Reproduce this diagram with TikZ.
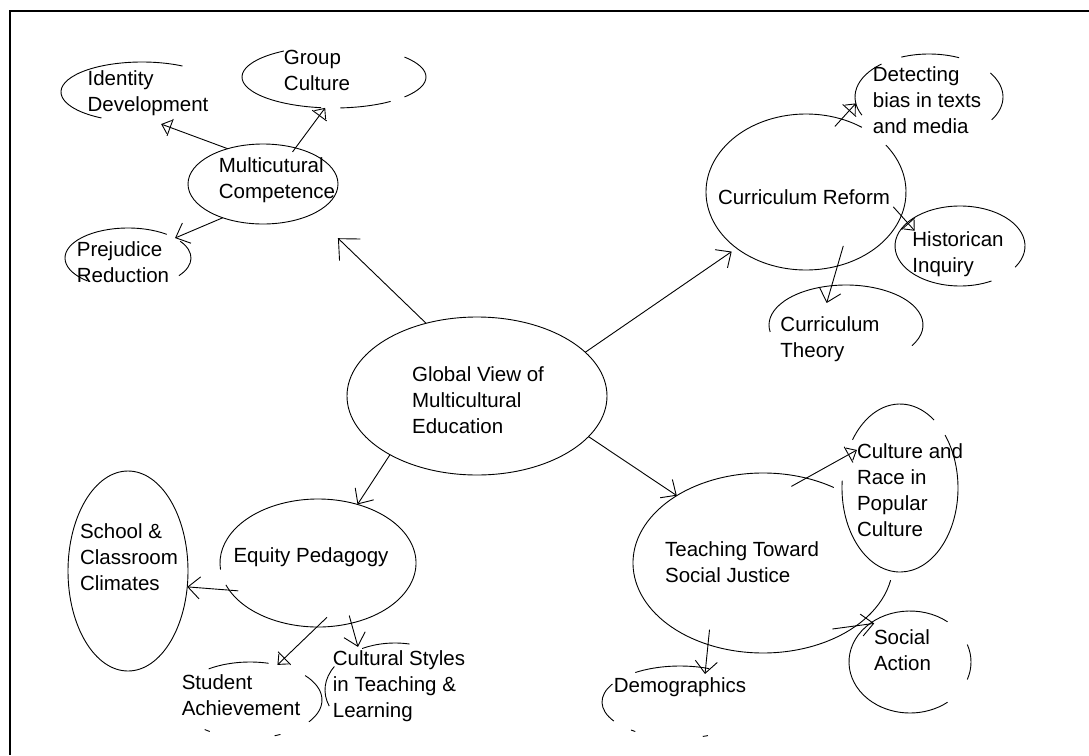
\documentclass[tikz,border=0pt]{standalone}
\usepackage{fontspec}
\setmainfont{Liberation Sans}
\usetikzlibrary{arrows.meta,shapes.geometric}

\begin{document}
\begin{tikzpicture}[x=1pt,y=1pt,line width=0.9pt,
  oval/.style 2 args={ellipse,minimum width=#1,minimum height=#2,inner sep=0pt,outer sep=0pt},
  txt/.style={align=left,inner sep=0pt,font=\fontsize{20.5}{26}\selectfont},
  arr/.style={-{Straight Barb[length=12pt,width=22pt]}},
  bigarr/.style={-{Straight Barb[length=16pt,width=30pt]}},
  tipbar/.style={-{Bar[width=18pt]Straight Barb[length=8pt,width=14pt]}}]
\useasboundingbox (0,0) rectangle (1089,-755);
\draw[line width=2.7pt] (1089,-11) -- (10,-11) -- (10,-755);

% centre and first ring
\node[oval={260}{158},draw,label={[txt,shift={(1,-4)}]center:{Global View of\\Multicultural\\Education}}] (glob) at (477,-396) {};
\node[oval={150}{80},draw,label={[txt,shift={(14,4)}]center:{Multicutural\\Competence}}] (comp) at (263,-184) {};
\node[oval={200}{156},label={[txt,shift={(-2,-5)}]center:{Curriculum Reform}}] (cur) at (806,-192) {};
\node[oval={196}{128},label={[txt,shift={(-7,6)}]center:{Equity Pedagogy}}] (eq) at (318,-563) {};
\node[oval={260}{180},label={[txt,shift={(-21,1)}]center:{Teaching Toward\\Social Justice}}] (tt) at (763,-563) {};

% outer ring
\node[oval={162}{60},label={[txt,shift={(6,-1)}]center:{Identity\\Development}}] (ident) at (142,-92) {};
\node[oval={184}{62},label={[txt,shift={(-17,6.5)}]center:{Group\\Culture}}] (grp) at (334,-77) {};
\node[oval={126}{60},label={[txt,shift={(-5,-4)}]center:{Prejudice\\Reduction}}] (prej) at (128,-258) {};
\node[oval={148}{86},label={[txt,shift={(-2,-3)}]center:{Detecting\\bias in texts\\and media}}] (bias) at (929,-97) {};
\node[oval={130}{80},label={[txt,shift={(-2,-8)}]center:{Historican\\Inquiry}}] (hist) at (960,-246) {};
\node[oval={154}{80},label={[txt,shift={(-16,-14)}]center:{Curriculum\\Theory}}] (theory) at (846,-325) {};
\node[oval={120}{200},draw,label={[txt,shift={(1,14)}]center:{School \&\\Classroom\\Climates}}] (school) at (128,-571) {};
\node[oval={144}{76},label={[txt,shift={(-9,5)}]center:{Student\\Achievement}}] (ach) at (250,-700) {};
\node[oval={140}{94},label={[txt,shift={(4,4)}]center:{Cultural Styles\\in Teaching \&\\Learning}}] (styles) at (395,-690) {};
\node[oval={116}{168},label={[txt,shift={(10,-2)}]center:{Culture and\\Race in\\Popular\\Culture}}] (pop) at (900,-488) {};
\node[oval={122}{102},label={[txt,shift={(-7.5,11.5)}]center:{Social\\Action}}] (act) at (910,-662) {};
\node[oval={156}{72},label={[txt,shift={(0,15)}]center:{Demographics}}] (demo) at (680,-702) {};

% broken outlines
\foreach \n/\rx/\ry/\a/\b in {cur/100/78/56/397, eq/98/64/200/546, tt/130/90/57/349,
  ident/81/30/60/240, grp/92/31/123/262, grp/92/31/274/308, grp/92/31/320/400,
  prej/63/30/52/230, prej/63/30/-36/34, bias/74/43/66/112, bias/74/43/130/205, bias/74/43/-32/34,
  hist/65/40/-32/299, theory/77/40/-31/190, ach/72/38/75/125, ach/72/38/-35/40,
  ach/72/38/231/236, ach/72/38/290/295, styles/70/47/78/118, styles/70/47/150/200,
  pop/58/84/54/145, pop/58/84/175/399, act/61/51/52/308, act/61/51/-20/20,
  demo/78/36/68/125, demo/78/36/150/212, demo/78/36/231/235, demo/78/36/287/291}
  {\draw (\n.center) ++(\a:\rx pt and \ry pt) arc[start angle=\a,end angle=\b,x radius=\rx pt,y radius=\ry pt];}

% connectors
\draw[bigarr,shorten >=35pt] (glob.125) -- (comp.-31);
\draw[arr,shorten >=6pt] (glob.22) -- (cur.219);
\draw[arr] (glob.214) -- (eq.56);
\draw[arr] (glob.-20) -- (tt.142);
\draw[tipbar,shorten >=7pt] (comp.135) -- (ident.-67);
\draw[tipbar,shorten <=-5pt] (comp.48) -- (grp.254);
\draw[arr] (comp.220) -- (prej.23);
\draw[tipbar,shorten <=-10pt] (cur.64) -- (bias.185);
\draw[tipbar,shorten <=-12pt,shorten >=-11pt] (cur.-14) -- (hist.156);
\draw[arr,shorten <=-21pt,shorten >=-18pt] (cur.-67) -- (theory.110);
\draw[arr,shorten <=-9pt] (eq.197) -- (school.-15);
\draw[tipbar,shorten <=-14pt] (eq.269) -- (ach.52);
\draw[arr,shorten <=-8pt,shorten >=3pt] (eq.-61) -- (styles.132);
\draw[tipbar,shorten <=-17pt,shorten >=-12pt] (tt.63) -- (pop.149);
\draw[arr,shorten <=-24pt,shorten >=-5pt] (tt.-34) -- (act.137);
\draw[arr,shorten <=-15pt,shorten >=-6pt] (tt.236) -- (demo.53);
\end{tikzpicture}
\end{document}
